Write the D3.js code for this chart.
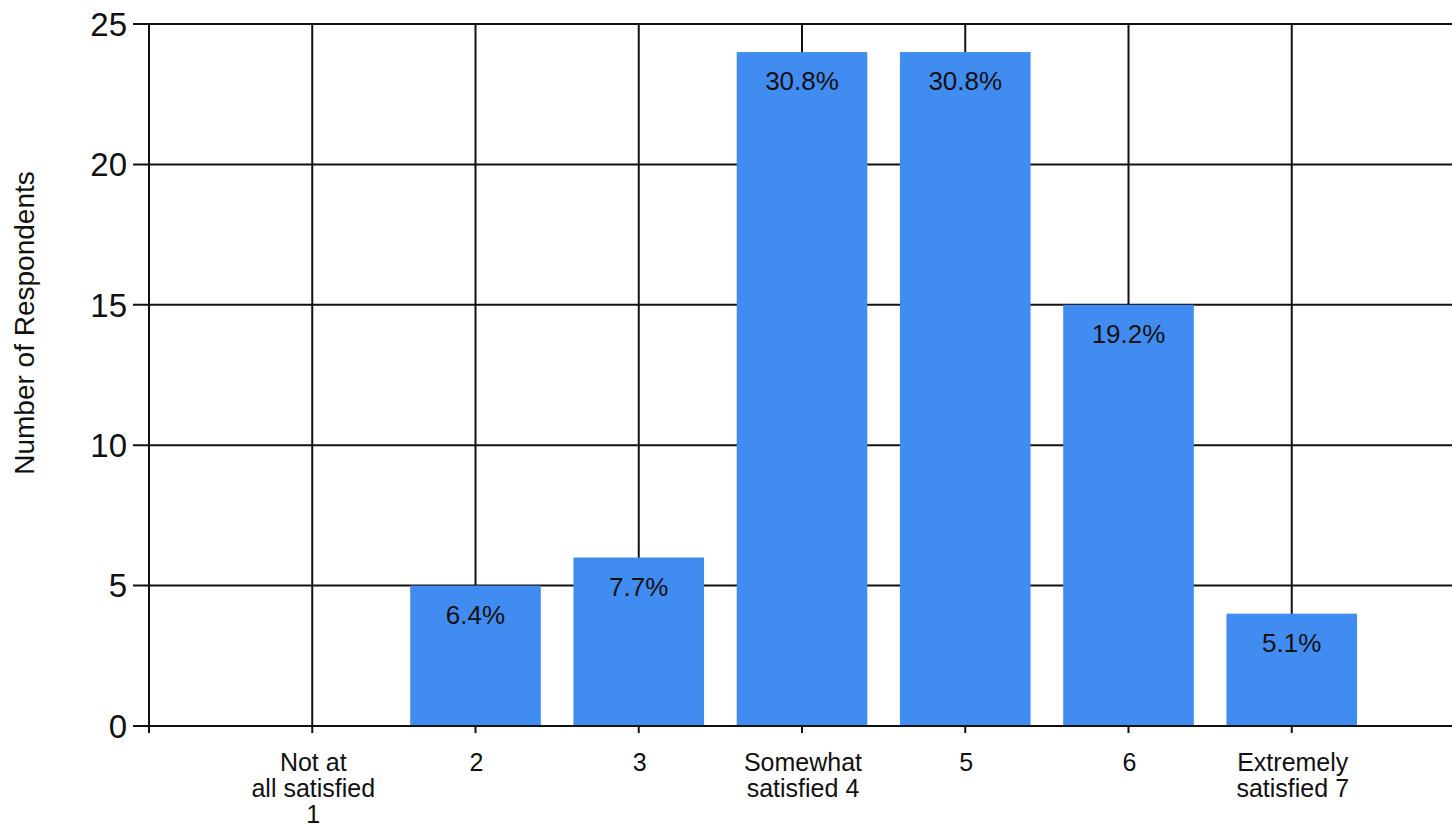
<!DOCTYPE html>
<html>
<head>
<meta charset="utf-8">
<script src="https://cdn.jsdelivr.net/npm/d3@7"></script>
<style>
  html, body { margin: 0; padding: 0; background: #fff; }
  svg { display: block; }
  text { font-family: "Liberation Sans", Arial, sans-serif; fill: #111; }
</style>
</head>
<body>
<svg id="chart" width="1452" height="827"></svg>
<script>
// Satisfaction ratings (1–7) and number of respondents
const categories = [
  ["Not at", "all satisfied", "1"],
  ["2"],
  ["3"],
  ["Somewhat", "satisfied 4"],
  ["5"],
  ["6"],
  ["Extremely", "satisfied 7"]
];
const counts = [0, 5, 6, 24, 24, 15, 4];
const percentLabels = ["", "6.4%", "7.7%", "30.8%", "30.8%", "19.2%", "5.1%"];
const yTicks = [0, 5, 10, 15, 20, 25];

const svg = d3.select("#chart");
const plotLeft = 149, plotRight = 1455, plotTop = 24, plotBottom = 726;

// Category positions sit on whole numbers 1..7 of a 0..8 axis
const x = d3.scaleLinear().domain([0, categories.length + 1]).range([plotLeft, plotRight]);
const y = d3.scaleLinear().domain([0, 25]).range([plotBottom, plotTop]);
const step = x(1) - x(0);
const barW = step * 0.8;

const grid = svg.append("g").attr("stroke", "#111").attr("stroke-width", 2);

// Horizontal gridlines with tick stubs on the left
grid.selectAll("line.h").data(yTicks).join("line")
  .attr("class", "h")
  .attr("x1", plotLeft - 16).attr("x2", 1452)
  .attr("y1", d => y(d)).attr("y2", d => y(d));

// Vertical lines: value axis plus one per category, each running into a tick below the axis
grid.selectAll("line.v").data(d3.range(0, categories.length + 1)).join("line")
  .attr("class", "v")
  .attr("x1", d => x(d)).attr("x2", d => x(d))
  .attr("y1", y(25)).attr("y2", plotBottom + 7);

const rows = counts.map((c, i) => ({ c, i }));

// Bars
svg.append("g").selectAll("rect").data(rows).join("rect")
  .attr("x", d => x(d.i + 1) - barW / 2)
  .attr("width", barW)
  .attr("y", d => y(d.c))
  .attr("height", d => y(0) - y(d.c))
  .attr("fill", "#418CF0");

// Redraw the baseline over the bars
svg.append("line")
  .attr("x1", plotLeft - 16).attr("x2", 1452)
  .attr("y1", y(0)).attr("y2", y(0))
  .attr("stroke", "#111").attr("stroke-width", 2);

// Percentage labels inside the bar tops
svg.append("g").selectAll("text").data(rows.filter(d => d.c > 0)).join("text")
  .attr("x", d => x(d.i + 1))
  .attr("y", d => y(d.c) + 38)
  .attr("text-anchor", "middle")
  .attr("font-size", 26)
  .text(d => percentLabels[d.i]);

// Y tick labels
svg.append("g").selectAll("text").data(yTicks).join("text")
  .attr("x", 127)
  .attr("y", d => y(d))
  .attr("dy", "0.36em")
  .attr("text-anchor", "end")
  .attr("font-size", 33)
  .text(d => d);

// Category labels (multi-line)
const catG = svg.append("g").selectAll("text").data(categories).join("text")
  .attr("text-anchor", "middle")
  .attr("font-size", 25)
  .attr("transform", (d, i) => `translate(${x(i + 1) + 1},${plotBottom + 45})`);
catG.selectAll("tspan").data(d => d).join("tspan")
  .attr("x", 0)
  .attr("dy", (d, j) => j === 0 ? 0 : 26)
  .text(d => d);

// Y axis title
svg.append("text")
  .attr("transform", `translate(34,${(plotTop + plotBottom) / 2 - 52}) rotate(-90)`)
  .attr("text-anchor", "middle")
  .attr("font-size", 28)
  .text("Number of Respondents");
</script>
</body>
</html>
